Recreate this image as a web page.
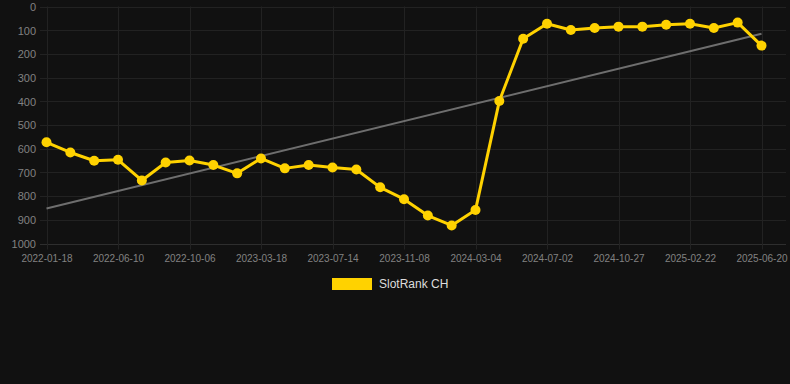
<!DOCTYPE html>
<html>
<head>
<meta charset="utf-8">
<script src="https://cdn.jsdelivr.net/npm/d3@7"></script>
<style>
  body { margin: 0; background: #111111; }
  svg { display: block; font-family: "Liberation Sans", Arial, sans-serif; }
  .grid line { stroke: #222222; stroke-width: 1; }
  .axis text { fill: #828282; }
  .axis path, .axis line { display: none; }
</style>
</head>
<body>
<div id="chart"></div>
<script>
const width = 790;
const height = 384;
const margin = { top: 6.5, right: 4, bottom: 140.5, left: 40 };

// SlotRank CH, one value per sample (lower is better)
const rankValues = [
  573, 616, 651, 647, 734, 658, 650, 669, 704, 641,
  683, 669, 679, 688, 763, 813, 882, 924, 859, 399,
  136, 73, 99, 91, 85, 85, 77, 73, 91, 68, 165,
];
// labels shown under every third point
const tickLabels = [
  "2022-01-18", "2022-06-10", "2022-10-06", "2023-03-18", "2023-07-14",
  "2023-11-08", "2024-03-04", "2024-07-02", "2024-10-27", "2025-02-22",
  "2025-06-20",
];
const yTicks = [0, 100, 200, 300, 400, 500, 600, 700, 800, 900, 1000];
// trend line values at first and last sample
const trendValues = [852, 115];

const seriesName = "SlotRank CH";
const lineColor = "#ffd200";

const svg = d3
  .select("#chart")
  .append("svg")
  .attr("width", width)
  .attr("height", height);

const innerH = height - margin.top - margin.bottom;

const xScale = d3
  .scaleLinear()
  .domain([0, rankValues.length - 1])
  .range([46.5, 761.5]);
const yScale = d3
  .scaleLinear()
  .domain([0, 1000])
  .range([margin.top, margin.top + innerH]);

// grid
const grid = svg.append("g").attr("class", "grid");
grid
  .selectAll("line.h")
  .data(yTicks)
  .enter()
  .append("line")
  .attr("class", "h")
  .attr("x1", margin.left)
  .attr("x2", width - margin.right)
  .attr("y1", (d) => Math.round(yScale(d)) + 0.5)
  .attr("y2", (d) => Math.round(yScale(d)) + 0.5)
  .style("stroke", (d) => (d === 1000 ? "#2e2e2e" : null));
grid
  .selectAll("line.v")
  .data(tickLabels)
  .enter()
  .append("line")
  .attr("class", "v")
  .attr("x1", (d, i) => Math.round(xScale(i * 3)) + 0.5)
  .attr("x2", (d, i) => Math.round(xScale(i * 3)) + 0.5)
  .attr("y1", margin.top)
  .attr("y2", yScale(1000) + 6);

// axes
svg
  .append("g")
  .attr("class", "axis")
  .attr("transform", `translate(${margin.left - 4},0)`)
  .call(
    d3
      .axisLeft(yScale)
      .tickValues(yTicks)
      .tickFormat((d) => String(d))
      .tickSize(0)
      .tickPadding(0)
  )
  .selectAll("text")
  .style("font-size", "11px")
  .attr("dy", "0.35em");

svg
  .append("g")
  .attr("class", "axis")
  .attr("transform", `translate(0,${yScale(1000)})`)
  .call(
    d3
      .axisBottom(xScale)
      .tickValues(tickLabels.map((d, i) => i * 3))
      .tickFormat((d) => tickLabels[d / 3])
      .tickSize(0)
      .tickPadding(11)
  )
  .selectAll("text")
  .style("font-size", "10px");

// trend line
svg
  .append("line")
  .attr("x1", xScale(0))
  .attr("x2", xScale(rankValues.length - 1))
  .attr("y1", yScale(trendValues[0]))
  .attr("y2", yScale(trendValues[1]))
  .attr("stroke", "#6e6e6e")
  .attr("stroke-width", 2);

// series line
const line = d3
  .line()
  .x((d, i) => xScale(i))
  .y((d) => yScale(d));
svg
  .append("path")
  .datum(rankValues)
  .attr("d", line)
  .attr("fill", "none")
  .attr("stroke", lineColor)
  .attr("stroke-width", 3)
  .attr("stroke-linejoin", "round");

svg
  .append("g")
  .selectAll("circle")
  .data(rankValues)
  .enter()
  .append("circle")
  .attr("cx", (d, i) => xScale(i))
  .attr("cy", (d) => yScale(d))
  .attr("r", 5)
  .attr("fill", lineColor);

// legend
const legend = svg.append("g").attr("transform", "translate(332,278)");
legend
  .append("rect")
  .attr("width", 40)
  .attr("height", 12)
  .attr("fill", lineColor);
legend
  .append("text")
  .attr("x", 47)
  .attr("y", 6)
  .attr("dy", "0.35em")
  .attr("fill", "#dddddd")
  .style("font-size", "12px")
  .text(seriesName);
</script>
</body>
</html>
